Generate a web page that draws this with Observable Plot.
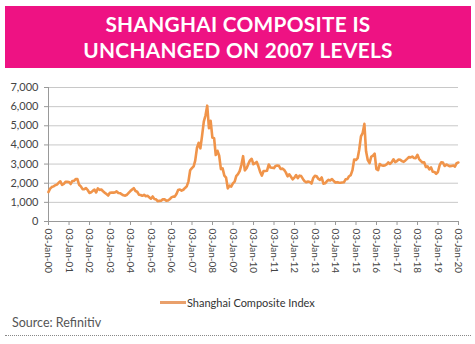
<!DOCTYPE html>
<html>
<head>
<meta charset="utf-8">
<script src="https://cdn.jsdelivr.net/npm/d3@7"></script>
<script src="https://cdn.jsdelivr.net/npm/@observablehq/plot@0.6"></script>
<style>
  html, body { margin: 0; padding: 0; background: #fff; width: 475px; height: 344px; overflow: hidden; }
  body { position: relative; font-family: Lato, "Open Sans", sans-serif; }
  #banner { position: absolute; left: 5px; top: 6px; width: 466px; height: 62px; background: #ee1283;
    color: #fff; font-weight: 700; font-size: 20.8px; line-height: 26px; text-align: center;
    display: flex; flex-direction: column; justify-content: center; letter-spacing: 0.3px; }
  #chart { position: absolute; left: 0; top: 72px; }
  #legend { position: absolute; left: 160px; top: 296px; font-size: 11px; color: #333; display: flex; align-items: center; }
  #legend .sw { width: 26px; height: 3px; background: #e9a06b; margin-right: 1px; }
  #source { position: absolute; left: 12px; top: 315px; font-size: 12.5px; color: #555; }
  #rule { position: absolute; left: 5px; top: 335px; width: 466px; border-top: 1px dotted #888; }
</style>
</head>
<body>
<div id="banner"><div>SHANGHAI COMPOSITE IS</div><div>UNCHANGED ON 2007 LEVELS</div></div>
<div id="chart"></div>
<div id="legend"><div class="sw"></div><span>Shanghai Composite Index</span></div>
<div id="source">Source: Refinitiv</div>
<div id="rule"></div>
<script>
const months = [
  "2000-01","2000-02","2000-03","2000-04","2000-05","2000-06","2000-07","2000-08","2000-09","2000-10","2000-11","2000-12",
  "2001-01","2001-02","2001-03","2001-04","2001-05","2001-06","2001-07","2001-08","2001-09","2001-10","2001-11","2001-12",
  "2002-01","2002-02","2002-03","2002-04","2002-05","2002-06","2002-07","2002-08","2002-09","2002-10","2002-11","2002-12",
  "2003-01","2003-02","2003-03","2003-04","2003-05","2003-06","2003-07","2003-08","2003-09","2003-10","2003-11","2003-12",
  "2004-01","2004-02","2004-03","2004-04","2004-05","2004-06","2004-07","2004-08","2004-09","2004-10","2004-11","2004-12",
  "2005-01","2005-02","2005-03","2005-04","2005-05","2005-06","2005-07","2005-08","2005-09","2005-10","2005-11","2005-12",
  "2006-01","2006-02","2006-03","2006-04","2006-05","2006-06","2006-07","2006-08","2006-09","2006-10","2006-11","2006-12",
  "2007-01","2007-02","2007-03","2007-04","2007-05","2007-06","2007-07","2007-08","2007-09","2007-10","2007-11","2007-12",
  "2008-01","2008-02","2008-03","2008-04","2008-05","2008-06","2008-07","2008-08","2008-09","2008-10","2008-11","2008-12",
  "2009-01","2009-02","2009-03","2009-04","2009-05","2009-06","2009-07","2009-08","2009-09","2009-10","2009-11","2009-12",
  "2010-01","2010-02","2010-03","2010-04","2010-05","2010-06","2010-07","2010-08","2010-09","2010-10","2010-11","2010-12",
  "2011-01","2011-02","2011-03","2011-04","2011-05","2011-06","2011-07","2011-08","2011-09","2011-10","2011-11","2011-12",
  "2012-01","2012-02","2012-03","2012-04","2012-05","2012-06","2012-07","2012-08","2012-09","2012-10","2012-11","2012-12",
  "2013-01","2013-02","2013-03","2013-04","2013-05","2013-06","2013-07","2013-08","2013-09","2013-10","2013-11","2013-12",
  "2014-01","2014-02","2014-03","2014-04","2014-05","2014-06","2014-07","2014-08","2014-09","2014-10","2014-11","2014-12",
  "2015-01","2015-02","2015-03","2015-04","2015-05","2015-06","2015-07","2015-08","2015-09","2015-10","2015-11","2015-12",
  "2016-01","2016-02","2016-03","2016-04","2016-05","2016-06","2016-07","2016-08","2016-09","2016-10","2016-11","2016-12",
  "2017-01","2017-02","2017-03","2017-04","2017-05","2017-06","2017-07","2017-08","2017-09","2017-10","2017-11","2017-12",
  "2018-01","2018-02","2018-03","2018-04","2018-05","2018-06","2018-07","2018-08","2018-09","2018-10","2018-11","2018-12",
  "2019-01","2019-02","2019-03","2019-04","2019-05","2019-06","2019-07","2019-08","2019-09","2019-10","2019-11","2019-12",
  "2020-01"
];
const index = [
  1535,1714,1800,1836,1894,1928,2023,2097,1910,1961,2070,2073,
  2065,1959,2112,2119,2214,2218,1920,1834,1688,1690,1747,1646,
  1491,1524,1603,1667,1515,1732,1652,1669,1581,1507,1431,1357,
  1500,1511,1510,1521,1576,1487,1477,1421,1367,1348,1397,1497,
  1590,1675,1742,1595,1555,1399,1386,1342,1396,1320,1341,1266,
  1191,1306,1181,1159,1060,1080,1083,1162,1155,1092,1099,1161,
  1258,1299,1298,1440,1641,1672,1612,1658,1753,1837,2099,2675,
  2786,2881,3183,3841,4109,3820,4471,5218,5552,6050,4871,5262,
  4383,4348,3473,3693,3433,2736,2776,2397,2293,1729,1871,1821,
  1991,2082,2373,2478,2633,2959,3412,2667,2779,2996,3195,3277,
  2989,3051,3110,2871,2592,2398,2638,2639,2656,2979,2820,2808,
  2790,2905,2928,2911,2743,2762,2701,2567,2359,2468,2333,2199,
  2292,2428,2262,2396,2373,2225,2103,2047,2086,2068,1980,2269,
  2385,2365,2237,2178,2301,1979,1994,2098,2175,2141,2220,2116,
  2033,2056,2033,2026,2039,2048,2201,2217,2364,2420,2683,3235,
  3210,3310,3748,4442,4612,5100,3664,3206,3053,3383,3445,3539,
  2738,2688,3004,2938,2917,2930,2979,3085,3005,3100,3250,3104,
  3159,3242,3223,3155,3117,3192,3273,3361,3349,3393,3317,3307,
  3481,3259,3169,3082,3095,2847,2876,2725,2821,2603,2588,2494,
  2585,2941,3091,3078,2899,2979,2933,2886,2905,2929,2871,3050,
  3083
];
const tickYears = d3.range(2000, 2021);
const yTicks = [0, 1000, 2000, 3000, 4000, 5000, 6000, 7000];
const seriesName = "Shanghai Composite Index";

const parse = d3.utcParse("%Y-%m");
const data = months.map((m, i) => ({date: parse(m), value: index[i]}));
const xTicks = tickYears.map(y => new Date(Date.UTC(y, 0, 3)));
const xDomain = [xTicks[0], xTicks[xTicks.length - 1]];

const chart = Plot.plot({
  width: 475,
  height: 209,
  marginTop: 15,
  marginBottom: 60,
  marginLeft: 48,
  marginRight: 17,
  style: {fontFamily: "Lato, 'Open Sans', sans-serif", color: "#444", background: "transparent"},
  x: {type: "utc", domain: xDomain},
  y: {domain: [0, 7000]},
  marks: [
    Plot.gridY(yTicks.slice(1), {stroke: "#c8c8c8", strokeOpacity: 1}),
    Plot.axisY(yTicks, {tickFormat: d3.format(","), tickSize: 4, tickPadding: 6, fontSize: 11, stroke: "#999", label: null}),
    Plot.axisX(xTicks, {tickFormat: d3.utcFormat("%d-%b-%y"), tickSize: 4, tickPadding: 3, tickRotate: 90, fontSize: 10, stroke: "#999", label: null}),
    Plot.ruleY([0], {stroke: "#999"}),
    Plot.ruleX([xDomain[0]], {y1: 0, y2: 7000, stroke: "#999"}),
    Plot.line(data, {x: "date", y: "value", stroke: "#f0944a", strokeWidth: 2.6, strokeLinejoin: "round"})
  ]
});
document.getElementById("chart").appendChild(chart);
</script>
</body>
</html>
